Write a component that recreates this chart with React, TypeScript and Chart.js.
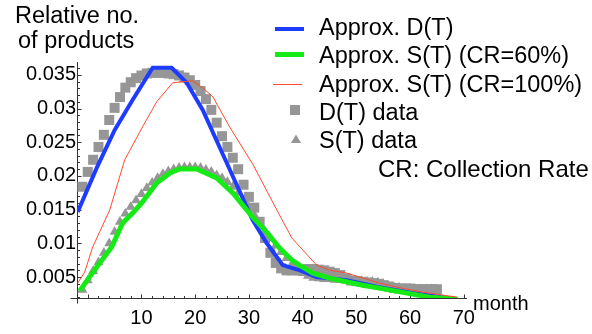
import React, { useEffect, useRef } from 'react';
import { Chart, registerables } from 'chart.js';

Chart.register(...registerables);

const FONT = "'Liberation Sans', Arial, Helvetica, sans-serif";

// ---- Data ----
const approxDMonths = [-1.87, 1.67, 5.02, 8.37, 12.09, 15.63, 18.42, 21.4, 26.05, 30.7, 33.3, 36.3, 38.1, 39.4, 42.6, 48.2, 54.3, 60.5, 66.1, 68.9];
const approxDValues = [0.01465, 0.02119, 0.02683, 0.03129, 0.03604, 0.03604, 0.03381, 0.0298, 0.02163, 0.01346, 0.01005, 0.00678, 0.00634, 0.00604, 0.005, 0.00455, 0.00351, 0.00262, 0.00203, 0.00158];

const approxS60Months = [-1.5, 1.67, 4.45, 6.5, 8.37, 10.2, 12.83, 15.3, 17.1, 20.3, 24.0, 27.0, 30.7, 33.3, 35.7, 38.0, 39.4, 41.9, 45.0, 51.2, 54.3, 59.4, 63.7, 68.9];
const approxS60Values = [0.00295, 0.00648, 0.00945, 0.01302, 0.0145, 0.01614, 0.01896, 0.02044, 0.02104, 0.02104, 0.0197, 0.01747, 0.0139, 0.01168, 0.00931, 0.00752, 0.00678, 0.00559, 0.00485, 0.0038, 0.00336, 0.00262, 0.00203, 0.00173];

const approxS100Months = [-1.87, -0.57, 0.92, 4.09, 6.88, 10.2, 12.83, 15.8, 17.5, 19.5, 21.4, 23.3, 26.4, 30.7, 35.2, 38.0, 42.6, 45.0, 48.2, 54.3, 57.5, 62.3, 66.1, 68.7];
const approxS100Values = [0.00411, 0.00574, 0.00945, 0.01495, 0.02238, 0.02728, 0.03099, 0.03381, 0.03396, 0.03411, 0.03307, 0.03173, 0.02728, 0.02178, 0.01495, 0.01079, 0.00678, 0.00604, 0.0056, 0.00411, 0.00351, 0.00277, 0.00233, 0.00203];

const dataMonths = [-1, 0, 1, 2, 3, 4, 5, 6, 7, 8, 9, 10, 11, 12, 13, 14, 15, 16, 17, 18, 19, 20, 21, 22, 23, 24, 25, 26, 27, 28, 29, 30, 31, 32, 33, 34, 35, 36, 37, 38, 39, 40, 41, 42, 43, 44, 45, 46, 47, 48, 49, 50, 51, 52, 53, 54, 55, 56, 57, 58, 59, 60, 61, 62, 63, 64, 65];

const dDataValues = [0.0184, 0.0206, 0.0224, 0.0243, 0.0261, 0.0283, 0.0301, 0.0317, 0.0331, 0.0339, 0.0345, 0.0349, 0.0352, 0.0353, 0.0353, 0.0353, 0.0352, 0.0351, 0.0349, 0.0346, 0.0342, 0.0335, 0.0326, 0.0314, 0.0298, 0.0279, 0.0259, 0.0243, 0.0227, 0.021, 0.0187, 0.0169, 0.0153, 0.0132, 0.0108, 0.0086, 0.0071, 0.0063, 0.006, 0.006, 0.006, 0.006, 0.0062, 0.0062, 0.0061, 0.006, 0.0058, 0.0056, 0.0053, 0.0048, 0.0045, 0.0044, 0.0043, 0.0042, 0.0041, 0.004, 0.0038, 0.0036, 0.0034, 0.0033, 0.0033, 0.0033, 0.0032, 0.0032, 0.0032, 0.0032, 0.0032];

const sDataValues = [0.0031, 0.0045, 0.0059, 0.0072, 0.0086, 0.01, 0.0117, 0.0132, 0.0144, 0.0154, 0.0164, 0.0173, 0.0182, 0.019, 0.0197, 0.0203, 0.0207, 0.021, 0.0212, 0.0213, 0.0213, 0.0213, 0.0212, 0.0209, 0.0206, 0.0201, 0.0197, 0.0191, 0.0184, 0.0175, 0.0164, 0.0154, 0.0142, 0.013, 0.0118, 0.0108, 0.0097, 0.0087, 0.0078, 0.0069, 0.0062, 0.0056, 0.0052, 0.0049, 0.0048, 0.0047, 0.0047, 0.0046, 0.0046, 0.0045, 0.0045, 0.0044, 0.0044, 0.0043, 0.0043, 0.0042, 0.004, 0.0037, 0.0035, 0.0034, 0.0033, 0.0033, 0.0032, 0.0032, 0.0032, 0.0032, 0.0032];

const xTickValues = [10, 20, 30, 40, 50, 60, 70];
const yTickValues = [0.005, 0.01, 0.015, 0.02, 0.025, 0.03, 0.035];

const legendLabels = ['Approx. D(T)', 'Approx. S(T) (CR=60%)', 'Approx. S(T) (CR=100%)', 'D(T) data', 'S(T) data'];
const titleLines = ['Relative no.', 'of products'];
const xAxisTitle = 'month';
const noteText = 'CR: Collection Rate';

const X_MIN = -2;
const X_MAX = 70.6;
const Y_MIN = 0.0019;
const Y_MAX = 0.0369;

const BLUE = 'rgb(30, 60, 255)';
const GREEN = 'rgb(20, 235, 20)';
const RED = 'rgb(255, 75, 45)';
const GREY = 'rgb(150, 150, 150)';

const toPoints = (xs: number[], ys: number[]) => xs.map((x, i) => ({ x, y: ys[i] }));

const decorPlugin = {
  id: 'decor',
  beforeDatasetsDraw(chart: any) {
    const ctx = chart.ctx as CanvasRenderingContext2D;
    const xs = chart.scales.x;
    const ys = chart.scales.y;
    const ax = Math.round(xs.getPixelForValue(X_MIN)) + 0.5;
    const ay = Math.round(ys.getPixelForValue(Y_MIN)) + 0.5;
    const top = ys.getPixelForValue(Y_MAX);
    const right = xs.getPixelForValue(X_MAX);
    ctx.save();
    ctx.strokeStyle = '#333';
    ctx.lineWidth = 1;
    ctx.beginPath();
    ctx.moveTo(ax, top);
    ctx.lineTo(ax, ay + 5);
    ctx.moveTo(ax - 7, ay);
    ctx.lineTo(right, ay);
    ctx.stroke();
    // x ticks (every 2 months, inward)
    ctx.beginPath();
    for (let v = 0; v <= 70; v += 2) {
      const px = Math.round(xs.getPixelForValue(v)) + 0.5;
      const len = v % 10 === 0 ? 4 : 2.5;
      ctx.moveTo(px, ay);
      ctx.lineTo(px, ay - len);
    }
    // y ticks (every 0.001, inward)
    for (let k = 2; k <= 36; k++) {
      const v = k / 1000;
      const py = Math.round(ys.getPixelForValue(v)) + 0.5;
      const len = k % 5 === 0 ? 4 : 2.5;
      ctx.moveTo(ax, py);
      ctx.lineTo(ax + len, py);
    }
    ctx.stroke();
    ctx.restore();
  },
  afterDraw(chart: any) {
    const ctx = chart.ctx as CanvasRenderingContext2D;
    ctx.save();
    ctx.fillStyle = '#000';
    ctx.textBaseline = 'alphabetic';
    ctx.textAlign = 'left';
    ctx.font = `23.5px ${FONT}`;
    ctx.fillText(titleLines[0], 15, 23);
    ctx.fillText(titleLines[1], 18, 48);

    // legend
    const textX = 319;
    const baselines = [35, 63, 92, 120, 148];
    baselines.forEach((b, i) => ctx.fillText(legendLabels[i], textX, b));
    ctx.font = `24px ${FONT}`;
    ctx.fillText(noteText, 378, 177);

    // legend symbols
    ctx.lineCap = 'butt';
    ctx.strokeStyle = BLUE;
    ctx.lineWidth = 4;
    ctx.beginPath(); ctx.moveTo(275, 29); ctx.lineTo(304, 29); ctx.stroke();
    ctx.strokeStyle = GREEN;
    ctx.lineWidth = 5;
    ctx.beginPath(); ctx.moveTo(275, 54.5); ctx.lineTo(304, 54.5); ctx.stroke();
    ctx.strokeStyle = RED;
    ctx.lineWidth = 1;
    ctx.beginPath(); ctx.moveTo(273, 84.5); ctx.lineTo(302, 84.5); ctx.stroke();
    ctx.fillStyle = GREY;
    ctx.fillRect(290, 105, 10, 10);
    ctx.beginPath();
    ctx.moveTo(296, 134.5); ctx.lineTo(301, 143); ctx.lineTo(291, 143); ctx.closePath();
    ctx.fill();

    ctx.fillStyle = '#000';
    ctx.font = `20px ${FONT}`;
    ctx.fillText(xAxisTitle, 473, 310);
    ctx.restore();
  },
};

export default function App() {
  const canvasRef = useRef<HTMLCanvasElement | null>(null);

  useEffect(() => {
    const canvas = canvasRef.current;
    if (!canvas) return;
    const chart = new Chart(canvas, {
      type: 'scatter',
      data: {
        datasets: [
          {
            label: legendLabels[2],
            data: toPoints(approxS100Months, approxS100Values),
            showLine: true,
            borderColor: RED,
            borderWidth: 1,
            pointRadius: 0,
            tension: 0,
          },
          {
            label: legendLabels[1],
            data: toPoints(approxS60Months, approxS60Values),
            showLine: true,
            borderColor: GREEN,
            borderWidth: 5,
            pointRadius: 0,
            tension: 0,
          },
          {
            label: legendLabels[0],
            data: toPoints(approxDMonths, approxDValues),
            showLine: true,
            borderColor: BLUE,
            borderWidth: 4,
            pointRadius: 0,
            tension: 0,
          },
          {
            label: legendLabels[3],
            data: toPoints(dataMonths, dDataValues),
            showLine: false,
            pointStyle: 'rect',
            pointRadius: 7.07,
            pointBackgroundColor: GREY,
            pointBorderWidth: 0,
            backgroundColor: GREY,
            borderWidth: 0,
          },
          {
            label: legendLabels[4],
            data: toPoints(dataMonths, sDataValues),
            showLine: false,
            pointStyle: 'triangle',
            pointRadius: 5.8,
            pointBackgroundColor: GREY,
            pointBorderWidth: 0,
            backgroundColor: GREY,
            borderWidth: 0,
          },
        ],
      },
      options: {
        animation: false,
        responsive: false,
        devicePixelRatio: 1,
        events: [],
        layout: { padding: { top: 62, right: 125, left: 0, bottom: 0 } },
        plugins: {
          legend: { display: false },
          tooltip: { enabled: false },
          title: { display: false },
        },
        scales: {
          x: {
            type: 'linear',
            min: X_MIN,
            max: X_MAX,
            grid: { display: false, drawTicks: false },
            border: { display: false },
            afterBuildTicks: (s: any) => {
              s.ticks = xTickValues.map((v) => ({ value: v }));
            },
            afterFit: (s: any) => {
              s.height = 36;
            },
            ticks: {
              font: { family: FONT, size: 20 },
              color: '#000',
              padding: 8,
              maxRotation: 0,
              autoSkip: false,
              callback: (v: any) => String(v),
            },
          },
          y: {
            type: 'linear',
            min: Y_MIN,
            max: Y_MAX,
            grid: { display: false, drawTicks: false },
            border: { display: false },
            afterBuildTicks: (s: any) => {
              s.ticks = yTickValues.map((v) => ({ value: v }));
            },
            afterFit: (s: any) => {
              s.width = 77;
            },
            ticks: {
              font: { family: FONT, size: 20 },
              color: '#000',
              padding: 1,
              autoSkip: false,
              callback: (v: any) => String(Number(Number(v).toFixed(3))),
            },
          },
        },
      },
      plugins: [decorPlugin],
    });
    return () => chart.destroy();
  }, []);

  return (
    <div style={{ position: 'fixed', left: 0, top: 0, width: 592, height: 334, background: '#fff' }}>
      <canvas ref={canvasRef} width={592} height={334} style={{ display: 'block' }} />
    </div>
  );
}
